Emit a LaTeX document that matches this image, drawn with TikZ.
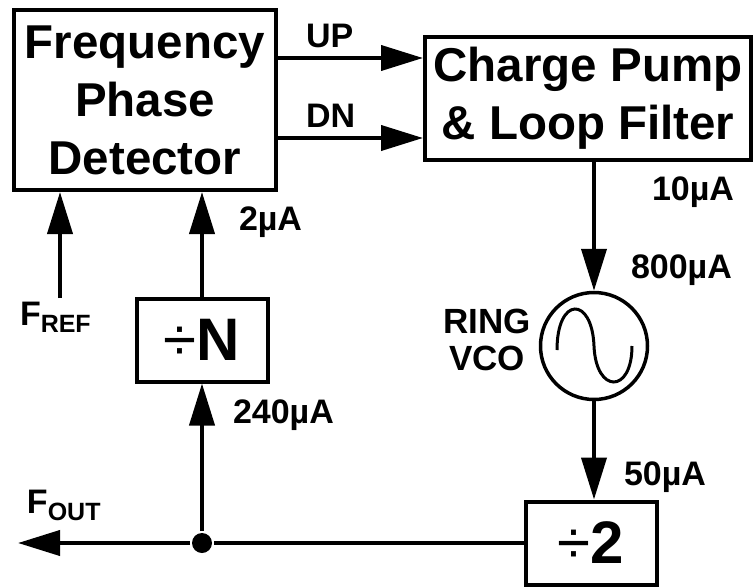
\documentclass[tikz,border=0pt]{standalone}
\usepackage{fontspec}
\setmainfont{Liberation Sans}
\usetikzlibrary{arrows.meta}

\begin{document}
\begin{tikzpicture}[
        x=1pt, y=-1pt,
        line width=4pt,
        block/.style={draw, inner sep=0pt, align=center, font=\fontsize{47.5}{58}\selectfont\bfseries},
        divbox/.style={draw, minimum width=131pt, minimum height=83pt, inner sep=0pt, font=\fontsize{60}{60}\selectfont\bfseries},
        lbl/.style={anchor=base west, inner sep=0pt, font=\fontsize{34}{34}\selectfont\bfseries},
        osc/.style={draw, circle, line width=3.5pt, minimum size=107pt, inner sep=0pt},
        dot/.style={fill, circle, minimum size=20pt, inner sep=0pt},
        >={Triangle[length=42pt, width=25pt]}
    ]
        \useasboundingbox (0,0) rectangle (756,587);

        % Blocks
        \node[block, minimum width=262pt, minimum height=180pt] (fpd) at (145,100) {Frequency\\Phase\\Detector};
        \node[block, minimum width=326pt, minimum height=123pt] (cp) at (588,98.5) {Charge Pump\\\& Loop Filter};
        \node[osc] (vco) at (594,346) {};
        \node[divbox] (divn) at (202,340) {{\mdseries ÷}N};
        \node[divbox] (div2) at (591,543) {{\mdseries ÷}2};

        % Free ends and junction
        \coordinate (fref) at (60,298);
        \coordinate (fout) at (18,543);
        \node[dot] (jn) at (202,543) {};

        % Sine inside the oscillator
        \draw[line width=3pt] (557,350) .. controls (557,296) and (592,296) .. (594,346)
            .. controls (596,394) and (632,394) .. (632,346);

        % PFD to charge pump
        \draw[->] ([yshift=42pt]fpd.east) -- ([yshift=42pt]fpd.east -| cp.west);
        \draw[->] ([yshift=-38pt]fpd.east) -- ([yshift=-38pt]fpd.east -| cp.west);

        % Forward path
        \draw[->] (cp.south -| vco.north) -- (vco.north);
        \draw[->] (vco.south) -- (vco.south |- div2.north);

        % Feedback
        \draw (div2.west) -- (jn);
        \draw[->] (jn) -- (fout);
        \draw[->] (jn) -- (divn.south);
        \draw[->] (divn.north) -- (divn.north |- fpd.south);
        \draw[->] (fref) -- (fref |- fpd.south);

        % Labels
        \node[lbl] (up) at (304,47) {UP};
        \node[lbl] (dn) at (304,127) {DN};
        \node[lbl] (i10) at (650,200) {10µA};
        \node[lbl] (i800) at (629,278) {800µA};
        \node[lbl] (i50) at (622,485) {50µA};
        \node[lbl] (i2) at (237,230) {2µA};
        \node[lbl] (i240) at (231,423) {240µA};
        \node[lbl, align=center, anchor=center, font=\fontsize{35}{37}\selectfont\bfseries] (ring) at (487,340) {RING\\VCO};
        \node[lbl] (frefl) at (18,325) {F\raisebox{-7pt}{\fontsize{25}{25}\selectfont REF}};
        \node[lbl] (foutl) at (25,513) {F\raisebox{-7pt}{\fontsize{25}{25}\selectfont OUT}};
    \end{tikzpicture}
\end{document}
